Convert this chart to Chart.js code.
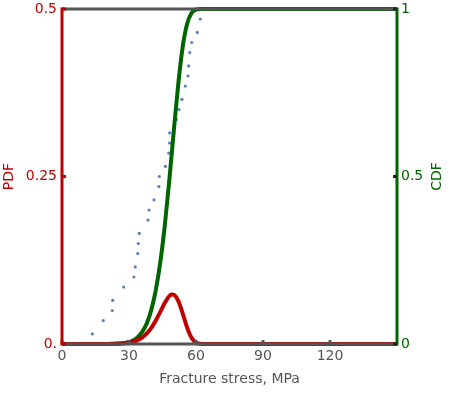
<!DOCTYPE html>
<html>
<head>
<meta charset="utf-8">
<script src="https://cdn.jsdelivr.net/npm/chart.js@4.4.1/dist/chart.umd.min.js"></script>
<style>
  html, body { margin: 0; padding: 0; background: #fff; }
  #chart { display: block; }
</style>
</head>
<body>
<canvas id="chart" width="450" height="393"></canvas>
<script>
// model curves
const stress = [0, 20, 24, 28, 30, 32, 34, 36, 38, 40, 42, 44, 46, 48, 49, 50, 52, 54, 56, 58, 60, 62, 64, 150];
const pdfValues = [0, 0.0001, 0.0003, 0.0011, 0.002, 0.0036, 0.0061, 0.0100, 0.0159, 0.0241, 0.0350, 0.0479, 0.0612, 0.0712, 0.0737, 0.0736, 0.0648, 0.0462, 0.0248, 0.0092, 0.0021, 0.0003, 0, 0];
const cdfValues = [0, 0.0001, 0.0006, 0.003, 0.006, 0.011, 0.021, 0.037, 0.062, 0.102, 0.161, 0.243, 0.352, 0.486, 0.558, 0.632, 0.772, 0.885, 0.955, 0.988, 0.998, 1, 1, 1];

// measured samples (empirical CDF)
const sampleStress = [13.6, 18.5, 22.5, 22.7, 27.6, 32.2, 32.8, 33.9, 34.2, 34.6, 38.5, 39.0, 41.2, 43.4, 43.6, 46.3, 47.8, 48.2, 48.2, 51.2, 52.4, 53.7, 55.2, 56.4, 56.7, 57.2, 58.1, 60.6, 61.9];
const sampleCdf = [0.03, 0.07, 0.10, 0.13, 0.17, 0.20, 0.23, 0.27, 0.30, 0.33, 0.37, 0.40, 0.43, 0.47, 0.50, 0.53, 0.57, 0.60, 0.63, 0.67, 0.70, 0.73, 0.77, 0.80, 0.83, 0.87, 0.90, 0.93, 0.97];

const xTicks = [0, 30, 60, 90, 120];
const pdfTicks = [0, 0.25, 0.5];
const cdfTicks = [0, 0.5, 1];

const RED = '#c00000', GREEN = '#006400', GRAY = '#555555', BLUE = '#5b7ec4';
const FONT = 'DejaVu Sans';

const zip = (xs, ys) => xs.map((x, i) => ({ x, y: ys[i] }));

// frame, inner ticks and the right-hand title drawn over the data
const framePlugin = {
    id: 'frame',
    afterDatasetsDraw(chart) {
        const { ctx, chartArea: a, scales } = chart;
        ctx.save();
        ctx.lineWidth = 3;
        ctx.lineCap = 'butt';

        const line = (color, x1, y1, x2, y2) => {
            ctx.strokeStyle = color;
            ctx.beginPath(); ctx.moveTo(x1, y1); ctx.lineTo(x2, y2); ctx.stroke();
        };

        line(GRAY, a.left, a.top, a.right, a.top);
        line(GRAY, a.left, a.bottom, a.right, a.bottom);

        xTicks.forEach(v => {
            const px = scales.x.getPixelForValue(v);
            line(GRAY, px, a.bottom, px, a.bottom - 4);
        });

        line(RED, a.left, a.top - 1.5, a.left, a.bottom + 1.5);
        pdfTicks.forEach(v => {
            const py = scales.y.getPixelForValue(v);
            line(RED, a.left, py, a.left + 4, py);
        });

        line(GREEN, a.right, a.top - 1.5, a.right, a.bottom + 1.5);
        cdfTicks.forEach(v => {
            const py = scales.y1.getPixelForValue(v);
            line('#1a2a1a', a.right - 4, py, a.right, py);
        });

        // CDF title reads bottom-to-top like the left one
        ctx.fillStyle = GREEN;
        ctx.font = '14px "' + FONT + '"';
        ctx.textAlign = 'center';
        ctx.textBaseline = 'middle';
        ctx.translate(437.5, (a.top + a.bottom) / 2);
        ctx.rotate(-Math.PI / 2);
        ctx.fillText('CDF', 0, 0);
        ctx.restore();
    }
};

const noPad = s => { s.paddingTop = 0; s.paddingBottom = 0; };

const chart = new Chart(document.getElementById('chart'), {
    type: 'line',
    data: {
        datasets: [
            {
                label: 'PDF',
                data: zip(stress, pdfValues),
                yAxisID: 'y',
                borderColor: RED,
                borderWidth: 4,
                pointRadius: 0,
                cubicInterpolationMode: 'monotone',
                fill: false
            },
            {
                label: 'CDF',
                data: zip(stress, cdfValues),
                yAxisID: 'y1',
                borderColor: GREEN,
                borderWidth: 4,
                pointRadius: 0,
                cubicInterpolationMode: 'monotone',
                fill: false
            },
            {
                type: 'scatter',
                label: 'Samples',
                data: zip(sampleStress, sampleCdf),
                yAxisID: 'y1',
                showLine: false,
                pointRadius: 1.6,
                pointBorderWidth: 0,
                backgroundColor: BLUE,
                borderColor: BLUE
            }
        ]
    },
    options: {
        responsive: false,
        animation: false,
        clip: false,
        layout: { padding: { top: 9, left: 0, right: 0, bottom: 0 } },
        plugins: { legend: { display: false }, tooltip: { enabled: false } },
        scales: {
            x: {
                type: 'linear',
                min: 0, max: 150,
                afterBuildTicks: s => { s.ticks = xTicks.map(v => ({ value: v })); },
                afterFit: s => { s.height = 49; },
                grid: { display: false, drawTicks: false },
                border: { display: false },
                ticks: { color: GRAY, padding: 4, font: { family: FONT, size: 14 }, maxRotation: 0 },
                title: {
                    display: true, text: 'Fracture stress, MPa', color: GRAY,
                    font: { family: FONT, size: 14 }, padding: { top: 0, bottom: 5.6 }
                }
            },
            y: {
                position: 'left',
                min: 0, max: 0.5,
                afterBuildTicks: s => { s.ticks = pdfTicks.map(v => ({ value: v })); },
                afterFit: s => { s.width = 62; noPad(s); },
                grid: { display: false, drawTicks: false },
                border: { display: false },
                ticks: {
                    color: RED, padding: 5, font: { family: FONT, size: 14 },
                    callback: v => v === 0 ? '0.' : String(v)
                },
                title: {
                    display: true, text: 'PDF', color: RED,
                    font: { family: FONT, size: 14 }, padding: { top: 0.6, bottom: 0 }
                }
            },
            y1: {
                position: 'right',
                min: 0, max: 1,
                afterBuildTicks: s => { s.ticks = cdfTicks.map(v => ({ value: v })); },
                afterFit: s => { s.width = 53; noPad(s); },
                grid: { display: false, drawTicks: false },
                border: { display: false },
                ticks: {
                    color: GREEN, padding: 4, font: { family: FONT, size: 14 },
                    callback: v => String(v)
                }
            }
        }
    },
    plugins: [framePlugin]
});
</script>
</body>
</html>
